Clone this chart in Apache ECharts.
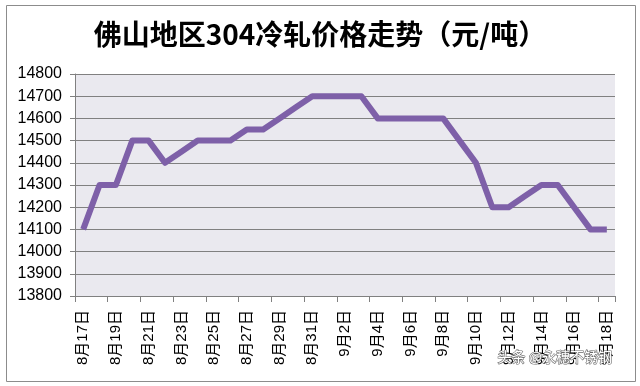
<!DOCTYPE html>
<html>
<head>
<meta charset="utf-8">
<script src="https://cdn.jsdelivr.net/npm/echarts@6/dist/echarts.min.js"></script>
<style>
html,body{margin:0;padding:0;background:#fff;}
#c{width:640px;height:386px;}
</style>
</head>
<body>
<div id="c"></div>
<script>
var titleText = '佛山地区304冷轧价格走势（元/吨）';
var categories = ['8月17日','8月18日','8月19日','8月20日','8月21日','8月22日','8月23日','8月24日','8月25日','8月26日','8月27日','8月28日','8月29日','8月30日','8月31日','9月1日','9月2日','9月3日','9月4日','9月5日','9月6日','9月7日','9月8日','9月9日','9月10日','9月11日','9月12日','9月13日','9月14日','9月15日','9月16日','9月17日','9月18日'];
var prices = [14100,14300,14300,14500,14500,14400,14450,14500,14500,14500,14550,14550,14600,14650,14700,14700,14700,14700,14600,14600,14600,14600,14600,14500,14400,14200,14200,14250,14300,14300,14200,14100,14100];
var yMin = 13800, yMax = 14800, yStep = 100;
var watermark = '头条 @永穗不锈钢';

var chart = echarts.init(document.getElementById('c'), null, {renderer:'canvas'});
chart.setOption({
  backgroundColor: '#ffffff',
  animation: false,
  graphic: [
    {type:'rect', left:4, top:3, shape:{width:629, height:376}, style:{fill:'none', stroke:'#8c8c8c', lineWidth:1}, z:-1},
    {type:'text', left:497, top:349, style:{text: watermark, fill:'#ffffff', stroke:'#6a6a6a', lineWidth:1.2, font:'14px "Noto Sans CJK SC"'}, z:100}
  ],
  title: {
    text: titleText,
    left: 'center',
    top: 15,
    textStyle: {fontFamily:'"Noto Sans CJK SC"', fontWeight:'bold', fontSize:28, color:'#000'}
  },
  grid: {left:75, right:25, top:74, bottom:90, show:true, backgroundColor:'#eae9ef', borderWidth:0},
  xAxis: {
    type:'category',
    data: categories,
    boundaryGap: true,
    axisLine: {lineStyle:{color:'#808080', width:1}},
    axisTick: {show:true, interval:1, length:6, lineStyle:{color:'#808080'}},
    axisLabel: {interval:1, rotate:90, margin:14, fontSize:15, color:'#000', fontFamily:'"Liberation Sans","Noto Sans CJK SC"'},
    splitLine: {show:false}
  },
  yAxis: {
    type:'value',
    min: yMin, max: yMax, interval: yStep,
    axisLine: {show:true, lineStyle:{color:'#808080', width:1}},
    axisTick: {show:true, length:5, inside:false, lineStyle:{color:'#808080'}},
    axisLabel: {margin:13, fontSize:16, color:'#000', fontFamily:'"Liberation Sans","Noto Sans CJK SC"', formatter: function(v){ return String(v); }},
    splitLine: {show:true, lineStyle:{color:'#808080', width:1}}
  },
  series: [{
    type:'line',
    data: prices,
    symbol:'none',
    lineStyle:{color:'#7e60a8', width:6, join:'round'},
    itemStyle:{color:'#7e60a8'}
  }]
});
</script>
</body>
</html>
